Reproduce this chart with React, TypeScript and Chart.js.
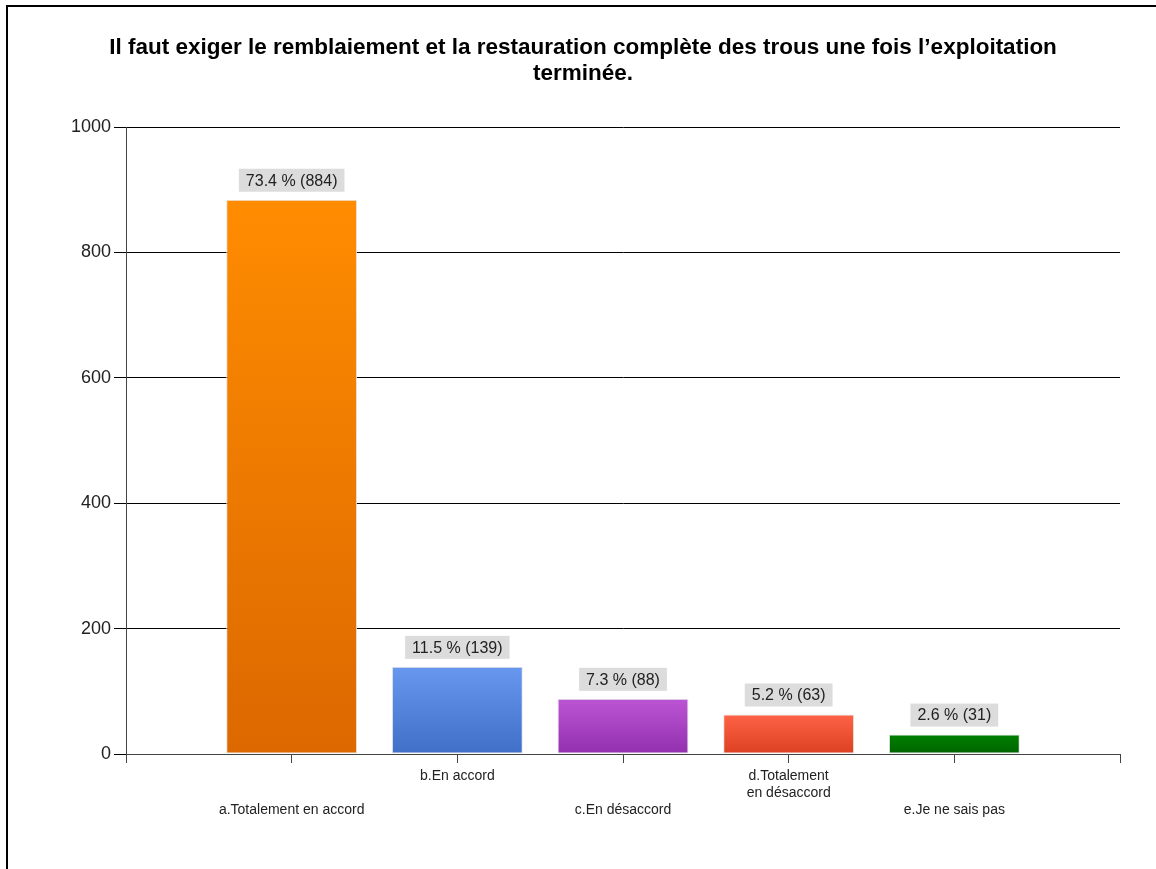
import React, { useEffect, useRef } from "react";
import { Chart, registerables } from "chart.js";

Chart.register(...registerables);

const titleLines = [
  "Il faut exiger le remblaiement et la restauration complète des trous une fois l’exploitation",
  "terminée.",
];
const categories = [
  "a.Totalement en accord",
  "b.En accord",
  "c.En désaccord",
  "d.Totalement en désaccord",
  "e.Je ne sais pas",
];
const categoryLines = [
  ["a.Totalement en accord"],
  ["b.En accord"],
  ["c.En désaccord"],
  ["d.Totalement", "en désaccord"],
  ["e.Je ne sais pas"],
];
const counts = [884, 139, 88, 63, 31];
const percents = [73.4, 11.5, 7.3, 5.2, 2.6];
const topColors = ["#ff8c00", "#6797ee", "#bc55d4", "#ff6347", "#008000"];
const bottomColors = ["#dc6800", "#3f6fc6", "#9230ae", "#dc4021", "#006400"];
const yTicks = [0, 200, 400, 600, 800, 1000];

const FONT = "'Liberation Sans', Arial, sans-serif";

const valueLabelPlugin = {
  id: "valueLabels",
  afterDatasetsDraw(chart: any) {
    const meta = chart.getDatasetMeta(0);
    const c = chart.ctx;
    c.save();
    c.font = `16px ${FONT}`;
    c.textAlign = "center";
    c.textBaseline = "middle";
    meta.data.forEach((bar: any, idx: number) => {
      const i = idx - 1;
      if (i < 0 || i >= counts.length) return;
      const text = `${percents[i].toFixed(1)} % (${counts[i]})`;
      const w = c.measureText(text).width + 14;
      const h = 23;
      const bottom = bar.y - 8;
      c.fillStyle = "#dcdcdc";
      c.fillRect(bar.x - w / 2, bottom - h, w, h);
      c.fillStyle = "#222";
      c.fillText(text, bar.x, bottom - h / 2 + 1);
    });
    c.restore();
  },
};

export default function App() {
  const ref = useRef<HTMLCanvasElement | null>(null);
  useEffect(() => {
    if (!ref.current) return;
    const labels = ["", ...categories, ""];
    const chart = new Chart(ref.current, {
      type: "bar",
      data: {
        labels,
        datasets: [
          {
            data: [null, ...counts, null] as any,
            backgroundColor: (ctx: any) => {
              const i = ctx.dataIndex - 1;
              if (i < 0 || i >= counts.length) return "transparent";
              const y = ctx.chart.scales?.y;
              if (!y) return topColors[i];
              const top = y.getPixelForValue(counts[i]);
              const bot = y.getPixelForValue(0);
              if (!isFinite(top) || !isFinite(bot) || top === bot) return topColors[i];
              const g = ctx.chart.ctx.createLinearGradient(0, top, 0, bot);
              g.addColorStop(0, topColors[i]);
              g.addColorStop(1, bottomColors[i]);
              return g;
            },
            borderColor: "#e6e6e6",
            borderWidth: 1,
            borderSkipped: false,
            barPercentage: 0.79,
            categoryPercentage: 1,
          },
        ],
      },
      options: {
        responsive: false,
        animation: false,
        devicePixelRatio: 1,
        layout: { padding: { left: 46, right: 36, top: 0, bottom: 0 } },
        plugins: {
          legend: { display: false },
          tooltip: { enabled: false },
          title: {
            display: true,
            text: titleLines,
            color: "#000",
            font: { family: FONT, size: 22.5, weight: "bold", lineHeight: 26 / 22.5 },
            padding: { top: 35, bottom: 40 },
          },
        },
        scales: {
          x: {
            type: "category",
            offset: false,
            grid: {
              display: true,
              offset: false,
              drawOnChartArea: false,
              drawTicks: true,
              tickLength: 9,
              color: "#444",
              lineWidth: 1,
            },
            border: { display: true, color: "#444", width: 1 },
            ticks: {
              autoSkip: false,
              maxRotation: 0,
              minRotation: 0,
              padding: 5,
              color: "#222",
              font: { family: FONT, size: 14, lineHeight: 17 / 14 },
              callback: (_v: any, index: number) => {
                const i = index - 1;
                if (i < 0 || i >= categoryLines.length) return "";
                return i % 2 === 0 ? ["", "", ...categoryLines[i]] : categoryLines[i];
              },
            },
            afterFit: (scale: any) => {
              scale.height = 115;
            },
          },
          y: {
            min: 0,
            max: 1000,
            afterBuildTicks: (scale: any) => {
              scale.ticks = yTicks.map((v) => ({ value: v }));
            },
            grid: {
              color: "#000",
              lineWidth: 1,
              tickLength: 12,
              drawTicks: true,
            },
            border: { display: true, color: "#444", width: 1 },
            ticks: {
              padding: 3,
              color: "#222",
              font: { family: FONT, size: 18 },
              callback: (v: any) => String(v),
            },
            afterFit: (scale: any) => {
              scale.width = 80;
            },
          },
        },
      },
      plugins: [valueLabelPlugin],
    });
    return () => chart.destroy();
  }, []);

  return (
    <div style={{ position: "absolute", left: 0, top: 0, width: 1156, height: 869, background: "#fff" }}>
      <canvas ref={ref} width={1156} height={869} style={{ position: "absolute", left: 0, top: 0 }} />
      <div
        style={{
          position: "absolute",
          left: 6,
          top: 5,
          width: 1150,
          height: 864,
          borderTop: "2px solid #000",
          borderLeft: "2px solid #000",
          boxSizing: "border-box",
          pointerEvents: "none",
        }}
      />
    </div>
  );
}
